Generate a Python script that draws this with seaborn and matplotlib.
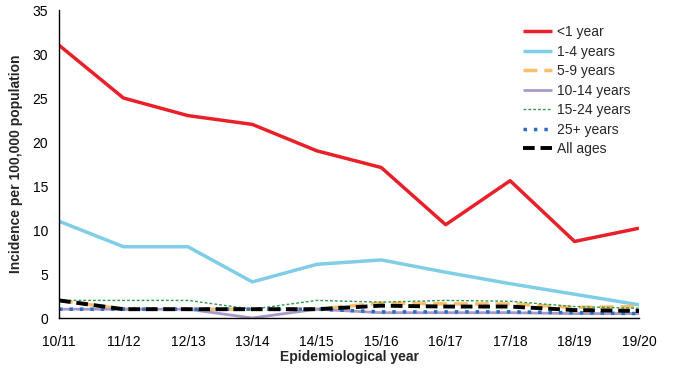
import matplotlib
matplotlib.use("Agg")
import matplotlib.pyplot as plt
import seaborn as sns
import pandas as pd

years = ["10/11", "11/12", "12/13", "13/14", "14/15", "15/16", "16/17", "17/18", "18/19", "19/20"]
lt1 = [31, 25, 23, 22, 19, 17.1, 10.6, 15.6, 8.7, 10.2]
y1_4 = [11, 8.1, 8.1, 4.1, 6.1, 6.6, 5.2, 3.9, 2.7, 1.5]
y5_9 = [2, 1, 1, 1, 1, 1.7, 1.6, 1.6, 1.2, 1.3]
y10_14 = [1, 1, 1, 0, 1, 0.6, 0.6, 0.6, 0.5, 0.5]
y15_24 = [2, 2, 2, 1, 2, 1.8, 2, 1.9, 1.3, 1.1]
y25p = [1, 1, 1, 1, 1, 0.7, 0.7, 0.7, 0.6, 0.5]
all_ages = [2, 1, 1, 1, 1, 1.4, 1.3, 1.3, 0.9, 0.8]

series = [
    ("<1 year", lt1, "#e8202a", (0, ()), 2.5),
    ("1-4 years", y1_4, "#7fcde6", (0, ()), 2.5),
    ("5-9 years", y5_9, "#fbbf6a", (0, (4, 2)), 2.5),
    ("10-14 years", y10_14, "#a899c6", (0, ()), 2.0),
    ("15-24 years", y15_24, "#2e9a4a", (0, (2, 1.5)), 1.0),
    ("25+ years", y25p, "#2a6fc0", (0, (1, 2)), 2.5),
    ("All ages", all_ages, "#000000", (0, (3, 1.5)), 2.8),
]

sns.set_style("white")
plt.rcParams['font.family'] = ['Liberation Sans', 'DejaVu Sans']

fig, ax = plt.subplots(figsize=(6.78, 3.68), dpi=100)
fig.subplots_adjust(left=59/678, right=639/678, top=1-10/368, bottom=1-318/368)

x = list(range(len(years)))
for name, vals, col, ls, lw in series:
    df = pd.DataFrame({"x": x, "y": vals})
    sns.lineplot(data=df, x="x", y="y", ax=ax, color=col, linestyle=ls, linewidth=lw, label=name)

ax.set_xlim(0, len(years) - 1)
ax.set_ylim(0, 35)
ax.set_yticks(range(0, 36, 5))
ax.set_xticks(x)
ax.set_xticklabels(years)
ax.tick_params(axis="both", direction="out", length=4, width=1, colors="#000000", labelsize=10, pad=4)
ax.tick_params(axis="x", pad=8)
for s in ["top", "right"]:
    ax.spines[s].set_visible(False)
for s in ["left", "bottom"]:
    ax.spines[s].set_color("#000000")
    ax.spines[s].set_linewidth(1)
ax.set_xlabel("Epidemiological year", fontsize=10, fontweight="bold", labelpad=1)
ax.set_ylabel("Incidence per 100,000 population", fontsize=10, fontweight="bold", labelpad=7)
leg = ax.legend(loc="upper left", bbox_to_anchor=(523/678, 1-25/368), bbox_transform=fig.transFigure,
                frameon=False, fontsize=10, borderpad=0, borderaxespad=0,
                handlelength=2.1, labelspacing=0.4, handletextpad=0.35)
fig.savefig("out.png", dpi=100)
